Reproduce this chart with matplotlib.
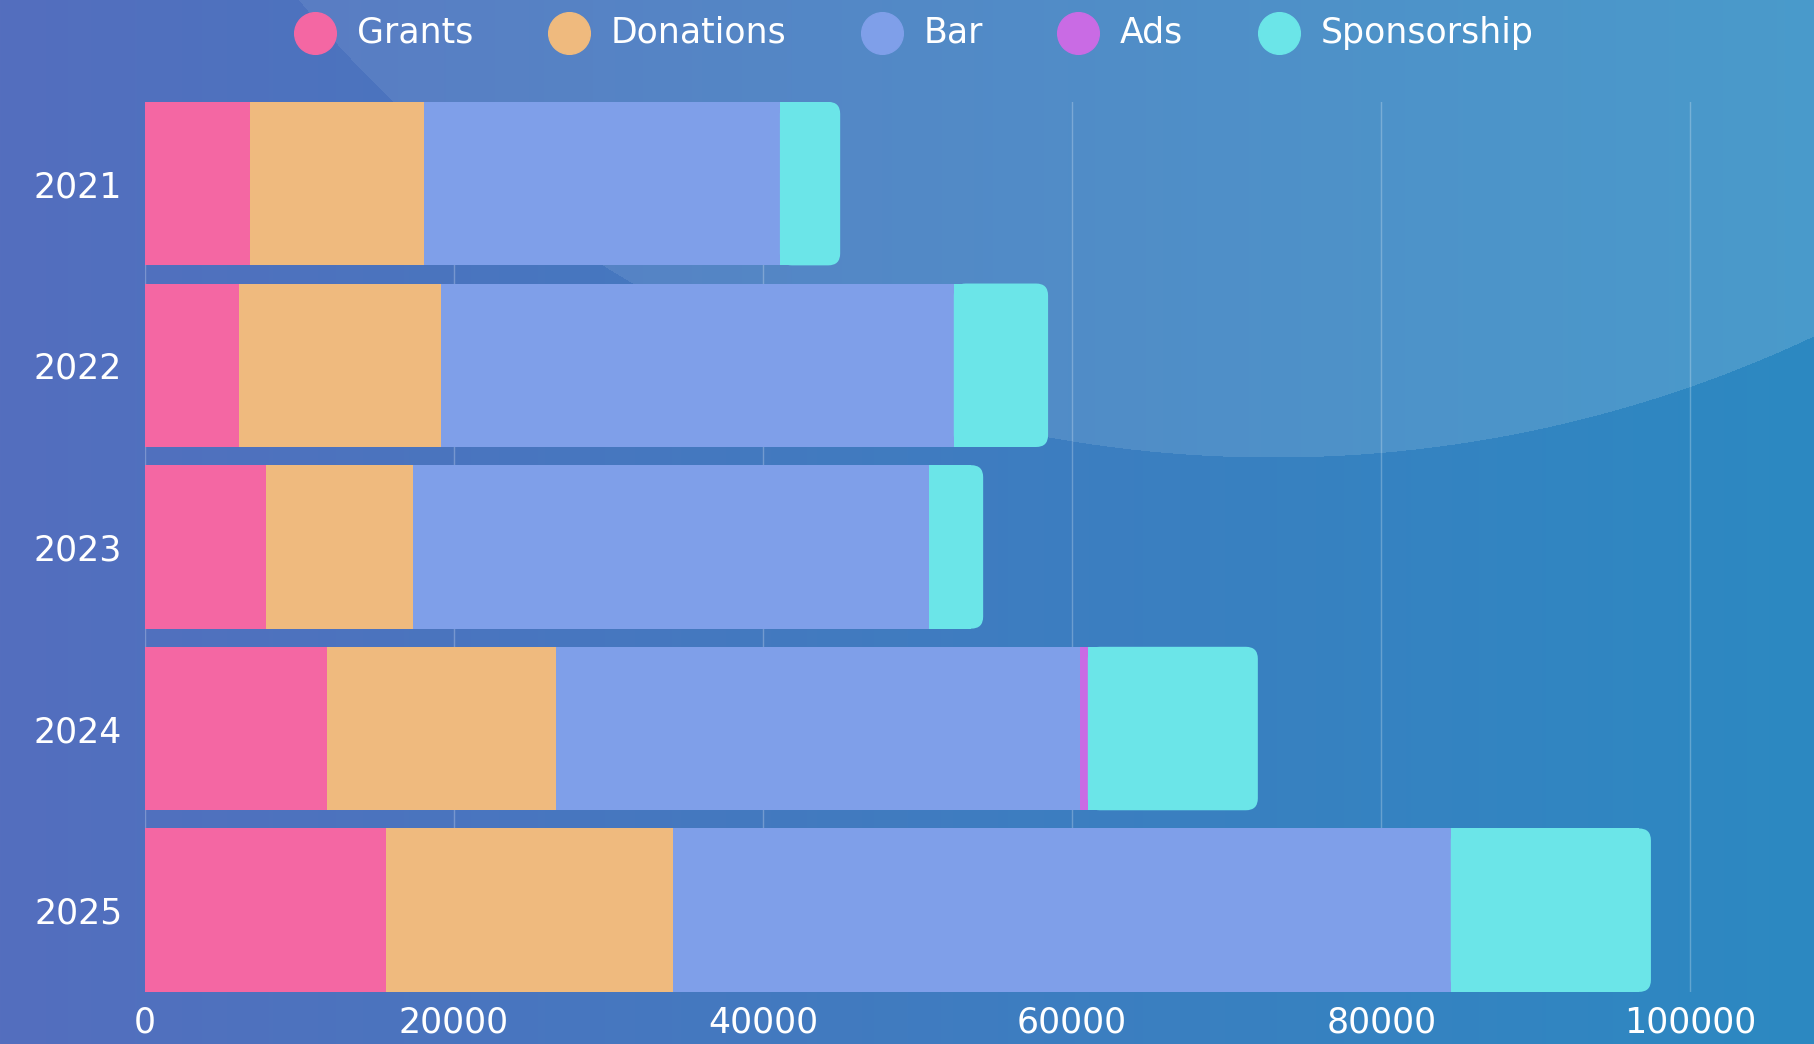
import matplotlib as mpl
mpl.use('agg')
import matplotlib.pyplot as plt
import numpy as np
from matplotlib.patches import FancyBboxPatch

plt.rc('font', family='DejaVu Sans')

years = ["2021", "2022", "2023", "2024", "2025"]
grants = [6800, 6100, 7850, 11800, 15600]
donations = [11300, 13100, 9500, 14800, 18600]
bar = [23000, 33150, 33400, 33900, 50300]
ads = [0, 0, 0, 520, 0]
sponsorship = [3900, 6100, 3500, 11000, 12950]

series = [("Grants", grants, "#F467A3"),
          ("Donations", donations, "#EFBA7E"),
          ("Bar", bar, "#7F9FE9"),
          ("Ads", ads, "#C96BE4"),
          ("Sponsorship", sponsorship, "#6BE5E8")]

W, H = 1814, 1044
fig = plt.figure(figsize=(W / 100, H / 100), dpi=100)

# background: horizontal gradient + light circle
xx, yy = np.meshgrid(np.arange(W), np.arange(H))
t = (xx / W)[..., None]
left = np.array([84, 110, 190]) / 255
right = np.array([44, 137, 194]) / 255
img = left * (1 - t) + right * t
circle = ((xx - 1273) ** 2 + (yy + 810) ** 2) < 1267 ** 2
a = (0.06 + 0.09 * (xx / W))[circle][:, None]
img[circle] = img[circle] * (1 - a) + a * np.array([0.95, 1.0, 1.0])
bg = fig.add_axes([0, 0, 1, 1])
bg.imshow(img, aspect='auto', extent=[0, 1, 0, 1])
bg.axis('off')

ax_l, ax_r = 0.0797, 0.9361
ax = fig.add_axes([ax_l, 0.0499, ax_r - ax_l, 0.9024 - 0.0499])
ax.set_facecolor('none')
y = np.arange(len(years))
h = 0.9
r_px = 12
# data units per pixel
xpp = 100500 / ((ax_r - ax_l) * W)
ypp = 4.9 / (0.8525 * H)

lefts = np.zeros(len(years))
last_idx = []
for i in range(len(years)):
    last_idx.append(max(k for k, s in enumerate(series) if s[1][i] > 0))

for k, (name, vals, col) in enumerate(series):
    vals = np.array(vals, dtype=float)
    for i in range(len(years)):
        if vals[i] <= 0:
            continue
        if k == last_idx[i]:
            ax.barh(y[i], vals[i] - r_px * xpp, left=lefts[i], height=h, color=col, zorder=2)
            p = FancyBboxPatch((lefts[i], y[i] - h / 2), vals[i], h,
                               boxstyle="round,pad=0,rounding_size=%f" % (r_px * xpp),
                               mutation_aspect=ypp / xpp, facecolor=col, edgecolor='none', zorder=2)
            ax.add_patch(p)
        else:
            ax.barh(y[i], vals[i], left=lefts[i], height=h, color=col, zorder=2)
    lefts += vals
    ax.scatter([], [], s=900, color=col, label=name)

ax.set_xlim(0, 100500)
ax.set_ylim(4.45, -0.45)
ax.set_yticks(y)
ax.set_yticklabels(years)
ax.set_xticks(np.arange(0, 100001, 20000))
ax.grid(axis='x', color='white', alpha=0.25, lw=1, zorder=0)
ax.set_axisbelow(True)
for s in ax.spines.values():
    s.set_visible(False)
ax.tick_params(length=0, colors='white', labelsize=25)
ax.tick_params(axis='x', pad=10)
ax.tick_params(axis='y', pad=16)

fig.legend(loc='upper center', bbox_to_anchor=(0.5, 1.015), ncol=5, frameon=False,
           fontsize=25, labelcolor='white', handletextpad=0.2, columnspacing=1.75,
           scatterpoints=1)

plt.savefig("out.png", dpi=100)
